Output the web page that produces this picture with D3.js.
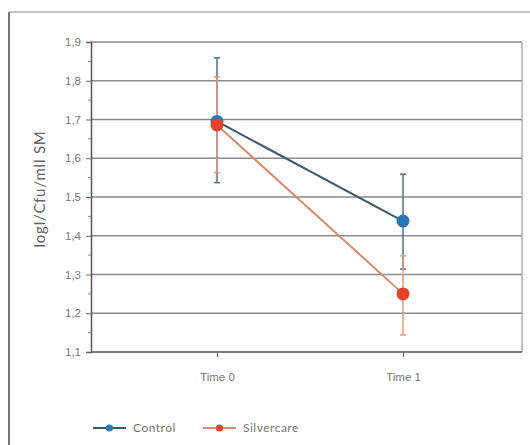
<!DOCTYPE html>
<html><head><meta charset="utf-8">
<script src="https://cdn.jsdelivr.net/npm/d3@7"></script>
<style>body{margin:0;background:#fff;}svg{display:block;font-family:Lato,"Open Sans",sans-serif;}</style>
</head><body>
<script>
const categories = ["Time 0", "Time 1"];
const seriesNames = ["Control", "Silvercare"];
const controlMean = [1.695, 1.438];
const controlLow = [1.537, 1.314];
const controlHigh = [1.859, 1.559];
const silverMean = [1.686, 1.25];
const silverLow = [1.563, 1.144];
const silverHigh = [1.81, 1.348];
const yTicks = [1.1, 1.2, 1.3, 1.4, 1.5, 1.6, 1.7, 1.8, 1.9];
const yLabel = "logl/Cfu/mll SM";

(function(){
const W = 530, H = 445;
const svg = d3.select("body").append("svg").attr("width", W).attr("height", H);

const pLeft = 91, pRight = 522, pTop = 42, pBottom = 352;
const x = d3.scalePoint().domain(categories).range([97, 523]).padding(0.645);
const y = d3.scaleLinear().domain([1.1, 1.9]).range([pBottom, pTop]);

// outer frame
svg.append("line").attr("x1", 9).attr("x2", W).attr("y1", 12).attr("y2", 12).attr("stroke", "#888").attr("stroke-width", 1.2);
svg.append("line").attr("x1", 9).attr("x2", 9).attr("y1", 12).attr("y2", H).attr("stroke", "#777").attr("stroke-width", 2);

// gridlines
svg.append("g").selectAll("line").data(yTicks.slice(1)).join("line")
  .attr("x1", pLeft).attr("x2", pRight).attr("y1", d => y(d)).attr("y2", d => y(d))
  .attr("stroke", "#8a8a8a").attr("stroke-width", 1.5);
// right border
svg.append("line").attr("x1", pRight).attr("x2", pRight).attr("y1", pTop).attr("y2", pBottom).attr("stroke", "#999").attr("stroke-width", 1.2);

// y axis
const yAxis = d3.axisLeft(y).tickValues(yTicks).tickFormat(d => d3.format(".1f")(d).replace(".", ",")).tickSize(5).tickPadding(5);
const gy = svg.append("g").attr("transform", `translate(${pLeft},0)`).call(yAxis);
gy.select(".domain").attr("stroke", "#555").attr("stroke-width", 1.5);
gy.selectAll(".tick line").attr("stroke", "#666");
gy.selectAll("text").attr("fill", "#777").attr("font-size", 11.5);
// minor ticks
svg.append("g").selectAll("line").data(d3.range(1.15, 1.9, 0.1)).join("line")
  .attr("x1", pLeft - 3).attr("x2", pLeft).attr("y1", d => y(d)).attr("y2", d => y(d)).attr("stroke", "#888");

// x axis
const xAxis = d3.axisBottom(x).tickSize(5).tickPadding(16);
const gx = svg.append("g").attr("transform", `translate(0,${pBottom})`).call(xAxis);
gx.select(".domain").attr("stroke", "#555").attr("stroke-width", 1.5).attr("d", `M${pLeft},0H${pRight}`);
gx.selectAll(".tick line").attr("stroke", "#666");
gx.selectAll("text").attr("fill", "#777").attr("font-size", 11.5);

// y label
svg.append("text").attr("transform", `translate(45,189) rotate(-90)`).attr("text-anchor", "middle")
  .attr("fill", "#666").attr("font-size", 15).attr("letter-spacing", 0.8).text(yLabel);

const series = [
  {name: seriesNames[0], mean: controlMean, lo: controlLow, hi: controlHigh, line: "#3d5a6c", err: "#4e7391", dot: "#2878b8"},
  {name: seriesNames[1], mean: silverMean, lo: silverLow, hi: silverHigh, line: "#d98a6c", err: "#e09a78", dot: "#e2432a"}
];

series.forEach(s => {
  const g = svg.append("g");
  categories.forEach((c, i) => {
    g.append("line").attr("x1", x(c)).attr("x2", x(c)).attr("y1", y(s.lo[i])).attr("y2", y(s.hi[i])).attr("stroke", s.err).attr("stroke-width", 1.5);
    [s.lo[i], s.hi[i]].forEach(v => g.append("line").attr("x1", x(c) - 3).attr("x2", x(c) + 3).attr("y1", y(v)).attr("y2", y(v)).attr("stroke", s.err).attr("stroke-width", 1.5));
  });
});
series.forEach(s => {
  svg.append("path").datum(categories.map((c, i) => [x(c), y(s.mean[i])]))
    .attr("d", d3.line()).attr("fill", "none").attr("stroke", s.line).attr("stroke-width", 2);
});
series.forEach(s => {
  svg.append("g").selectAll("circle").data(categories).join("circle")
    .attr("cx", d => x(d)).attr("cy", (d, i) => y(s.mean[i])).attr("r", 6.5).attr("fill", s.dot);
});

// legend
const legX = [93, 203];
series.forEach((s, i) => {
  const g = svg.append("g").attr("transform", `translate(${legX[i]},428)`);
  g.append("line").attr("x1", 0).attr("x2", 33).attr("stroke", s.line).attr("stroke-width", 2);
  g.append("circle").attr("cx", 16.5).attr("r", 3.5).attr("fill", s.dot);
  g.append("text").attr("x", 40).attr("dy", "0.35em").attr("fill", "#777").attr("font-size", 12).attr("letter-spacing", 0.5).text(s.name);
});
})();
</script>
</body></html>
